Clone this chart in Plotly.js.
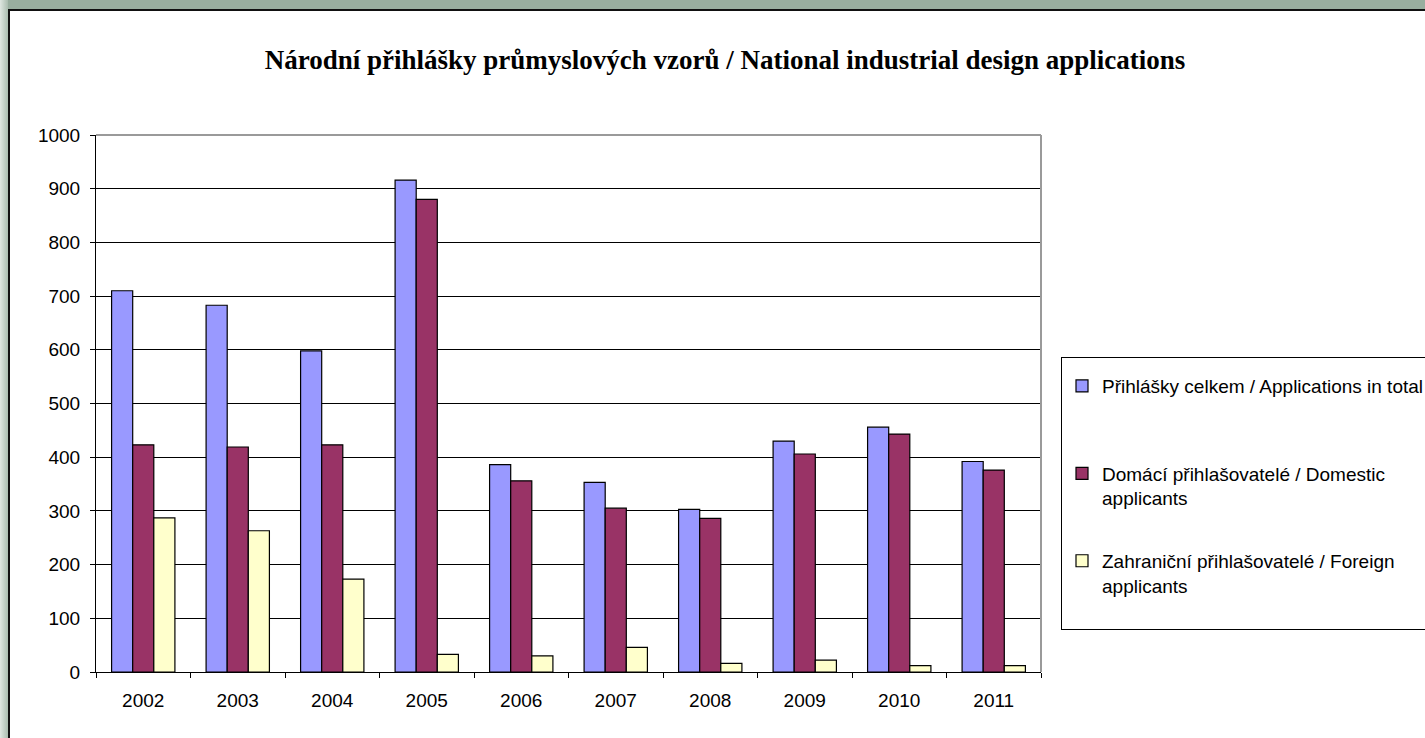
<!DOCTYPE html>
<html>
<head>
<meta charset="utf-8">
<script src="https://cdn.plot.ly/plotly-3.0.1.min.js"></script>
<style>
  html, body { margin:0; padding:0; width:1425px; height:738px; overflow:hidden; background:#99ae9f; }
  #frame { position:absolute; left:8px; top:9px; width:1430px; height:740px; background:#ffffff; border-left:2px solid #111; border-top:2px solid #111; }
  #leftglow { position:absolute; left:0; top:0; width:8px; height:738px; background:linear-gradient(to right, #dfe7e1, #a9bcae); }
  #chart { position:absolute; left:0; top:0; width:1425px; height:738px; }
</style>
</head>
<body>
<div id="leftglow"></div>
<div id="frame"></div>
<div id="chart"></div>
<script>
const years = ["2002","2003","2004","2005","2006","2007","2008","2009","2010","2011"];
const totalApps = [710, 683, 598, 916, 386, 353, 303, 430, 456, 392];
const domesticApps = [423, 419, 423, 880, 356, 305, 286, 406, 443, 376];
const foreignApps = [287, 263, 173, 33, 30, 46, 16, 22, 12, 12];
const seriesNames = [
  "Přihlášky celkem / Applications in total<br>\u00a0",
  "Domácí přihlašovatelé / Domestic<br>applicants",
  "Zahraniční přihlašovatelé / Foreign<br>applicants<br>\u00a0"
];
const titleText = "Národní přihlášky průmyslových vzorů / National industrial design applications";
const yTicks = [0,100,200,300,400,500,600,700,800,900,1000];

const colors = ["#9999ff", "#993366", "#ffffcc"];
const seriesValues = [totalApps, domesticApps, foreignApps];

const traces = seriesValues.map((vals, i) => ({
  type: "bar",
  x: years,
  y: vals,
  name: seriesNames[i],
  legendgroup: "g" + i,
  marker: { color: colors[i], line: { color: "#000000", width: 1.2 } },
  hoverinfo: "x+y"
}));

const layout = {
  width: 1425, height: 738,
  paper_bgcolor: "rgba(0,0,0,0)",
  plot_bgcolor: "#ffffff",
  margin: { l: 96, r: 384, t: 135, b: 66 },
  barmode: "group",
  bargap: 0.33,
  bargroupgap: 0,
  font: { family: "Liberation Sans, Arial, sans-serif", size: 19, color: "#000" },
  title: {
    text: titleText,
    font: { family: "Liberation Serif, Times New Roman, serif", size: 27, color: "#000", weight: "bold" },
    x: 725/1425, xref: "container", xanchor: "center",
    y: 1 - 60/738, yref: "container", yanchor: "middle"
  },
  xaxis: {
    type: "category",
    tickson: "boundaries",
    ticks: "outside", ticklen: 5, tickcolor: "#000", tickwidth: 1,
    showline: true, linecolor: "#000", linewidth: 1,
    showgrid: false,
    tickfont: { size: 19, color: "#000" },
    ticklabelstandoff: 11,
    fixedrange: true
  },
  yaxis: {
    range: [0, 1000],
    tickvals: yTicks,
    ticks: "outside", ticklen: 5, tickcolor: "#000", tickwidth: 1,
    showline: true, linecolor: "#000", linewidth: 1,
    showgrid: true, gridcolor: "#000", gridwidth: 1,
    zeroline: false,
    tickfont: { size: 19, color: "#000" },
    ticklabelstandoff: 6,
    fixedrange: true
  },
  legend: {
    xref: "container", yref: "container",
    x: 1061/1425, y: 1 - 357/738, xanchor: "left", yanchor: "top",
    bordercolor: "#000", borderwidth: 1, bgcolor: "#ffffff",
    font: { size: 19, color: "#000" },
    title: { text: "\u00a0", font: { size: 7 } },
    tracegroupgap: 35,
    traceorder: "grouped",
    valign: "top",
    itemclick: false, itemdoubleclick: false
  },
  shapes: [
    { type: "line", xref: "paper", yref: "paper", x0: 0, x1: 1, y0: 1, y1: 1, line: { color: "#9a9a9a", width: 2 }, layer: "above" },
    { type: "line", xref: "paper", yref: "paper", x0: 1, x1: 1, y0: 0, y1: 1, line: { color: "#9a9a9a", width: 2 }, layer: "above" }
  ],
  showlegend: true
};

Plotly.newPlot("chart", traces, layout, { displayModeBar: false });
</script>
</body>
</html>
